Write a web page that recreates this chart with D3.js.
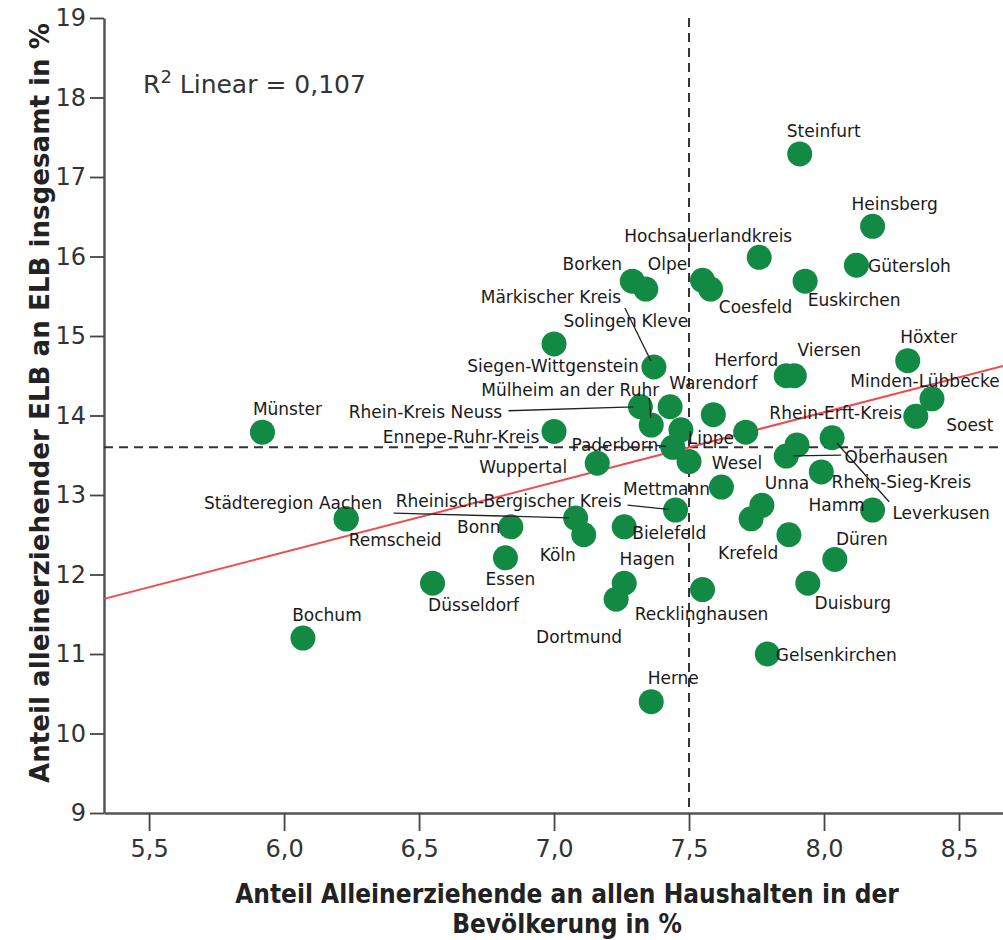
<!DOCTYPE html>
<html>
<head>
<meta charset="utf-8">
<script src="https://cdn.jsdelivr.net/npm/d3@7"></script>
<style>
  body { margin: 0; background: #fff; }
  text { font-family: "DejaVu Sans", sans-serif; }
</style>
</head>
<body>
<svg id="chart"></svg>
<script>
// Kreise und kreisfreie Städte (NRW)
const districts = [
  "Münster", "Bochum", "Städteregion Aachen", "Remscheid", "Düsseldorf", "Essen", "Bonn",
  "Siegen-Wittgenstein", "Ennepe-Ruhr-Kreis", "Rheinisch-Bergischer Kreis", "Köln", "Wuppertal",
  "Bielefeld", "Borken", "Kleve", "Märkischer Kreis", "Rhein-Kreis Neuss", "Solingen",
  "Mülheim an der Ruhr", "Lippe", "Paderborn", "Wesel", "Mettmann", "Hagen", "Dortmund", "Herne",
  "Recklinghausen", "Olpe", "Coesfeld", "Hochsauerlandkreis", "Steinfurt", "Euskirchen",
  "Gütersloh", "Heinsberg", "Herford", "Viersen", "Warendorf", "Rhein-Erft-Kreis", "Bottrop",
  "Oberhausen", "Mönchengladbach", "Leverkusen", "Rhein-Sieg-Kreis", "Krefeld", "Unna",
  "Oberbergischer Kreis", "Düren", "Duisburg", "Gelsenkirchen", "Hamm", "Höxter",
  "Minden-Lübbecke", "Soest"
];
// Anteil Alleinerziehende an allen Haushalten (%)
const shareHouseholds = [
  5.92, 6.07, 6.23, 6.23, 6.55, 6.82, 6.84,
  7.00, 7.00, 7.08, 7.11, 7.16,
  7.26, 7.29, 7.34, 7.37, 7.32, 7.43,
  7.36, 7.47, 7.44, 7.50, 7.45, 7.26, 7.23, 7.36,
  7.55, 7.55, 7.58, 7.76, 7.91, 7.93,
  8.12, 8.18, 7.86, 7.89, 7.59, 7.71, 7.62,
  7.86, 7.90, 8.03, 7.99, 7.73, 7.77,
  7.87, 8.04, 7.94, 7.79, 8.18, 8.31,
  8.40, 8.34
];
// Anteil alleinerziehender ELB an ELB insgesamt (%)
const shareELB = [
  13.79, 11.20, 12.70, 12.70, 11.89, 12.21, 12.60,
  14.90, 13.80, 12.71, 12.50, 13.40,
  12.60, 15.69, 15.59, 14.61, 14.11, 14.11,
  13.88, 13.82, 13.60, 13.42, 12.81, 11.89, 11.69, 10.40,
  11.81, 15.70, 15.59, 15.99, 17.29, 15.69,
  15.89, 16.38, 14.50, 14.50, 14.01, 13.79, 13.10,
  13.49, 13.63, 13.72, 13.29, 12.70, 12.87,
  12.50, 12.19, 11.89, 11.00, 12.81, 14.69,
  14.21, 13.99
];

const xTicks = [5.5, 6.0, 6.5, 7.0, 7.5, 8.0, 8.5];
const yTicks = [9, 10, 11, 12, 13, 14, 15, 16, 17, 18, 19];
const meanX = 7.5;
const meanY = 13.6;
const fitIntercept = 7.0;
const fitSlope = 0.88;
const rSquaredText = "0,107";

// label placement (pixels from the point), unlabelled points are left out
const labelOffsets = {
  "Münster": [25, -23], "Bochum": [24, -23], "Städteregion Aachen": [-53, -16],
  "Remscheid": [49, 21], "Düsseldorf": [41, 22], "Essen": [5, 21], "Bonn": [-32, 0],
  "Siegen-Wittgenstein": [-1, 22], "Ennepe-Ruhr-Kreis": [-93, 6],
  "Rheinisch-Bergischer Kreis": [-67, -17], "Köln": [-26, 20], "Wuppertal": [-74, 4],
  "Bielefeld": [45, 6], "Borken": [-40, -17], "Kleve": [19, 32], "Märkischer Kreis": [-103, -70],
  "Rhein-Kreis Neuss": [-215, 5], "Solingen": [-70, -86], "Mülheim an der Ruhr": [-81, -35],
  "Lippe": [30, 8], "Paderborn": [-58, -2], "Wesel": [48, 1], "Mettmann": [-9, -21],
  "Hagen": [23, -24], "Dortmund": [-37, 38], "Herne": [22, -24], "Recklinghausen": [-1, 24],
  "Olpe": [-35, -16], "Coesfeld": [45, 18], "Hochsauerlandkreis": [-51, -21],
  "Steinfurt": [24, -23], "Euskirchen": [49, 19], "Gütersloh": [53, 1], "Heinsberg": [22, -22],
  "Herford": [-40, -16], "Viersen": [35, -26], "Warendorf": [0, -32], "Rhein-Erft-Kreis": [90, -19],
  "Oberhausen": [110, 1], "Leverkusen": [109, 75], "Rhein-Sieg-Kreis": [80, 10],
  "Krefeld": [-3, 34], "Unna": [25, -22], "Düren": [27, -20], "Duisburg": [45, 20],
  "Gelsenkirchen": [69, 1], "Hamm": [-36, -5], "Höxter": [21, -24],
  "Minden-Lübbecke": [-7, -18], "Soest": [54, 9]
};
// leader lines start this far from the label centre
const leaderStarts = {
  "Märkischer Kreis": [74, 11], "Rhein-Kreis Neuss": [83, -1], "Mülheim an der Ruhr": [79, 8],
  "Rheinisch-Bergischer Kreis": [-115, 12], "Mettmann": [-39, 16], "Oberhausen": [-55, -2],
  "Leverkusen": [-52, -11], "Paderborn": [41, 0]
};

const width = 1003;
const height = 940;
const margin = { top: 18, right: 0, bottom: 127, left: 104 };

const svg = d3.select("#chart")
  .attr("width", width)
  .attr("height", height);

const x = d3.scaleLinear()
  .domain([5.333, 8.663])
  .range([margin.left, width - margin.right]);
const y = d3.scaleLinear()
  .domain([9, 19])
  .range([height - margin.bottom, margin.top]);

const de = d3.formatLocale({ decimal: ",", thousands: ".", grouping: [3], currency: ["", " €"] });

const points = districts.map((name, i) => ({ name: name, x: shareHouseholds[i], y: shareELB[i] }));

// axes
const xAxis = svg.append("g")
  .attr("transform", `translate(0,${y(9)})`)
  .call(d3.axisBottom(x).tickValues(xTicks).tickSize(18).tickSizeOuter(0).tickPadding(9)
    .tickFormat(de.format(".1f")));
const yAxis = svg.append("g")
  .attr("transform", `translate(${x.range()[0]},0)`)
  .call(d3.axisLeft(y).tickValues(yTicks).tickSize(14).tickSizeOuter(0).tickPadding(4));

[xAxis, yAxis].forEach(ax => {
  ax.select(".domain").attr("stroke", "#555").attr("stroke-width", 2.5);
  ax.selectAll(".tick line").attr("stroke", "#444").attr("stroke-width", 1.8);
  ax.selectAll(".tick text").attr("fill", "#333").style("font-size", "24px");
});

// mean reference lines
svg.append("line")
  .attr("x1", x(meanX)).attr("x2", x(meanX))
  .attr("y1", y(19)).attr("y2", y(9))
  .attr("stroke", "#333").attr("stroke-width", 2).attr("stroke-dasharray", "9,6");
svg.append("line")
  .attr("x1", x.range()[0]).attr("x2", x.range()[1])
  .attr("y1", y(meanY)).attr("y2", y(meanY))
  .attr("stroke", "#333").attr("stroke-width", 2).attr("stroke-dasharray", "9,6");

// fit line
const xd = x.domain();
svg.append("line")
  .attr("x1", x(xd[0])).attr("y1", y(fitIntercept + fitSlope * xd[0]))
  .attr("x2", x(xd[1])).attr("y2", y(fitIntercept + fitSlope * xd[1]))
  .attr("stroke", "#f24b4b").attr("stroke-width", 2);

// points
svg.append("g")
  .selectAll("circle")
  .data(points)
  .enter()
  .append("circle")
  .attr("cx", d => x(d.x))
  .attr("cy", d => y(d.y))
  .attr("r", 12.5)
  .attr("fill", "#138a44");

// leader lines, drawn over the points like SPSS does
const labelled = points.filter(d => labelOffsets[d.name]);
svg.append("g")
  .selectAll("line")
  .data(labelled.filter(d => leaderStarts[d.name]))
  .enter()
  .append("line")
  .attr("x1", d => x(d.x) + labelOffsets[d.name][0] + leaderStarts[d.name][0])
  .attr("y1", d => y(d.y) + labelOffsets[d.name][1] + leaderStarts[d.name][1])
  .attr("x2", function (d) {
    const sx = labelOffsets[d.name][0] + leaderStarts[d.name][0];
    const sy = labelOffsets[d.name][1] + leaderStarts[d.name][1];
    return x(d.x) + sx / Math.hypot(sx, sy) * 7;
  })
  .attr("y2", function (d) {
    const sx = labelOffsets[d.name][0] + leaderStarts[d.name][0];
    const sy = labelOffsets[d.name][1] + leaderStarts[d.name][1];
    return y(d.y) + sy / Math.hypot(sx, sy) * 7;
  })
  .attr("stroke", "#222").attr("stroke-width", 1.3);

// point labels
svg.append("g")
  .selectAll("text")
  .data(labelled)
  .enter()
  .append("text")
  .attr("x", d => x(d.x) + labelOffsets[d.name][0])
  .attr("y", d => y(d.y) + labelOffsets[d.name][1])
  .attr("text-anchor", "middle")
  .attr("dominant-baseline", "central")
  .attr("fill", "#1a1a1a")
  .style("font-size", "17px")
  .text(d => d.name);

// R² annotation
const r2 = svg.append("text")
  .attr("x", 143).attr("y", 93)
  .attr("fill", "#333")
  .style("font-size", "25px");
r2.append("tspan").text("R");
r2.append("tspan").attr("dy", -10).style("font-size", "18px").text("2");
r2.append("tspan").attr("dy", 10).text(" Linear = " + rSquaredText);

// axis titles
const titleFont = "'DejaVu Sans Condensed', 'DejaVu Sans', sans-serif";
svg.append("text")
  .attr("text-anchor", "middle")
  .attr("x", 567).attr("y", 903)
  .style("font-family", titleFont).style("font-weight", "bold").style("font-size", "26px")
  .attr("fill", "#222")
  .text("Anteil Alleinerziehende an allen Haushalten in der");
svg.append("text")
  .attr("text-anchor", "middle")
  .attr("x", 567).attr("y", 933)
  .style("font-family", titleFont).style("font-weight", "bold").style("font-size", "26px")
  .attr("fill", "#222")
  .text("Bevölkerung in %");
svg.append("text")
  .attr("text-anchor", "middle")
  .attr("transform", "translate(49,403) rotate(-90)")
  .attr("textLength", 760)
  .attr("lengthAdjust", "spacingAndGlyphs")
  .style("font-family", titleFont).style("font-weight", "bold").style("font-size", "27px")
  .attr("fill", "#222")
  .text("Anteil alleinerziehender ELB an ELB insgesamt in %");
</script>
</body>
</html>
